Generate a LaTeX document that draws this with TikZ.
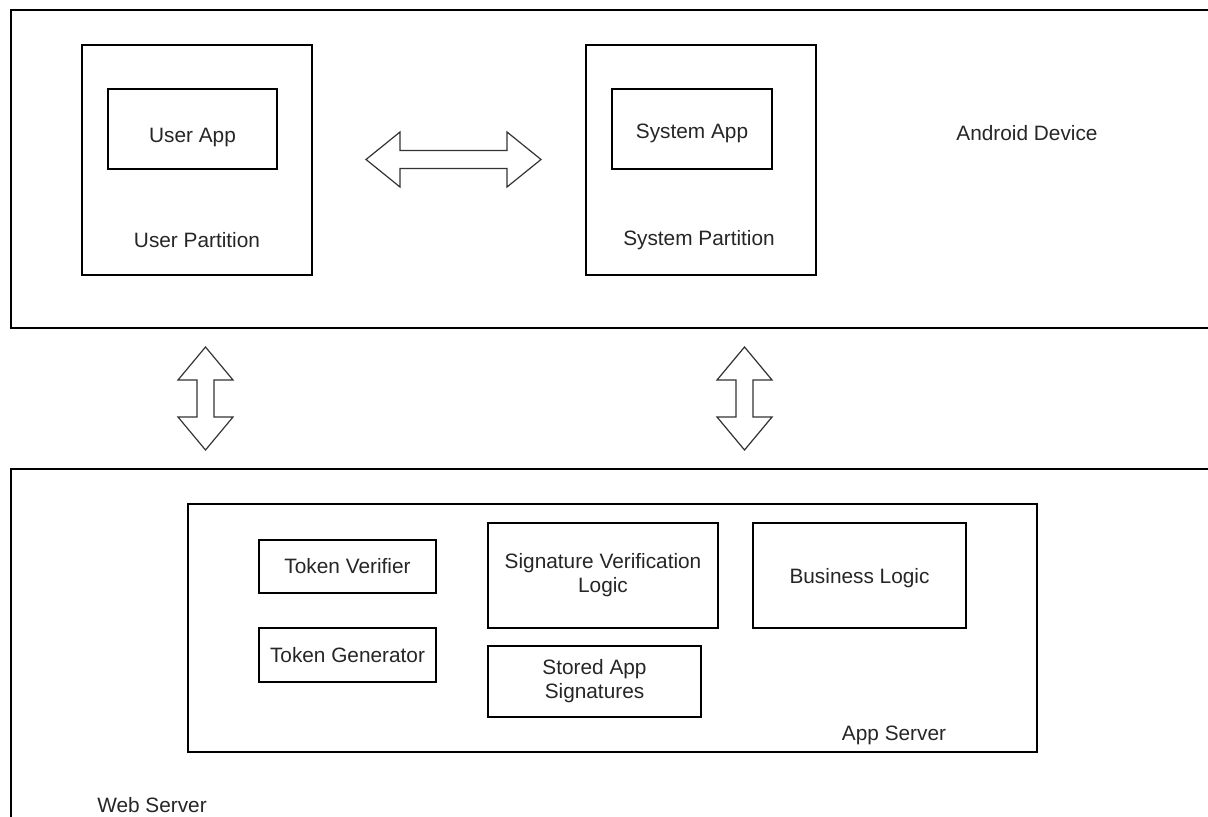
\documentclass[tikz,border=0pt]{standalone}
\usepackage{fontspec}
\setmainfont{Liberation Sans}
\usepackage{tikz}
\tikzset{
  outerbox/.style={
    draw, line width=0.3mm, fill=white,
    minimum width=304.75mm, minimum height=#1
  },
  partbox/.style={
    draw, line width=0.3mm, minimum width=57.5mm, minimum height=57.5mm
  },
  compbox/.style={
    draw, line width=0.3mm, align=center, inner sep=0pt,
    text=black!85, font=\fontsize{14.8}{17}\selectfont
  },
  textdrop/.style={text height=#1, text depth=0pt},
  boxlabel/.style={text=black!85, font=\fontsize{14.8}{17}\selectfont, inner sep=0pt},
  fatarrow/.style={draw=black!80, line width=0.3mm, fill=white, line join=miter},
}

\begin{document}
\begin{tikzpicture}[x=0.25mm, y=-0.25mm]
  \clip (0,0) rectangle (1208,817);
  \fill[white] (0,0) rectangle (1208,817);

  % device side
  \node[outerbox=79.5mm] (android) at (620.5,169) {};
  \node[boxlabel] (androidlbl) at (1027,133) {Android Device};
  \node[partbox] (upart) at (197,160) {};
  \node[boxlabel] (upartlbl) at (197,240) {User Partition};
  \node[compbox, textdrop=19pt, minimum width=42.25mm, minimum height=20mm] (uapp) at (192.5,129) {User App};
  \node[partbox] (spart) at (701,160) {};
  \node[boxlabel] (spartlbl) at (699,240) {System Partition};
  \node[compbox, textdrop=14pt, minimum width=40mm, minimum height=20mm] (sapp) at (692,129) {System App};

  % server side
  \node[outerbox=92.75mm] (web) at (620.5,654.5) {};
  \node[boxlabel] (weblbl) at (152,805) {Web Server};
  \node[compbox, minimum width=212.25mm, minimum height=62mm] (appsrv) at (612.5,628) {};
  \node[boxlabel] (appsrvlbl) at (894,735) {App Server};
  \node[compbox, minimum width=44.25mm, minimum height=13.25mm] (tokver) at (347.5,566.5) {Token Verifier};
  \node[compbox, minimum width=44.25mm, minimum height=13.5mm] (tokgen) at (347.5,655) {Token Generator};
  \node[compbox, minimum width=57.5mm, minimum height=26.25mm] (sigver) at (603,575.5) {Signature Verification\\Logic};
  \node[compbox, textdrop=11pt, minimum width=53.25mm, minimum height=26.25mm] (bizlogic) at (859.5,575.5) {Business Logic};
  \node[compbox, minimum width=53.25mm, minimum height=17.75mm] (storedsig) at (594.5,681.5) {Stored App\\Signatures};

  % block arrows
  \coordinate (partlink) at (366,159.5);
  \coordinate (userlink) at (205.5,347);
  \coordinate (syslink) at (744.5,347);
  \draw[fatarrow] (partlink) -- ++(34,-27.5) -- ++(0,18.5) -- ++(107,0) -- ++(0,-18.5) -- ++(34,27.5)
    -- ++(-34,27.5) -- ++(0,-18.5) -- ++(-107,0) -- ++(0,18.5) -- cycle;
  \draw[fatarrow] (userlink) -- ++(27.5,33) -- ++(-19,0) -- ++(0,37) -- ++(19,0) -- ++(-27.5,33)
    -- ++(-27.5,-33) -- ++(19,0) -- ++(0,-37) -- ++(-19,0) -- cycle;
  \draw[fatarrow] (syslink) -- ++(27.5,33) -- ++(-19,0) -- ++(0,37) -- ++(19,0) -- ++(-27.5,33)
    -- ++(-27.5,-33) -- ++(19,0) -- ++(0,-37) -- ++(-19,0) -- cycle;
\end{tikzpicture}
\end{document}
